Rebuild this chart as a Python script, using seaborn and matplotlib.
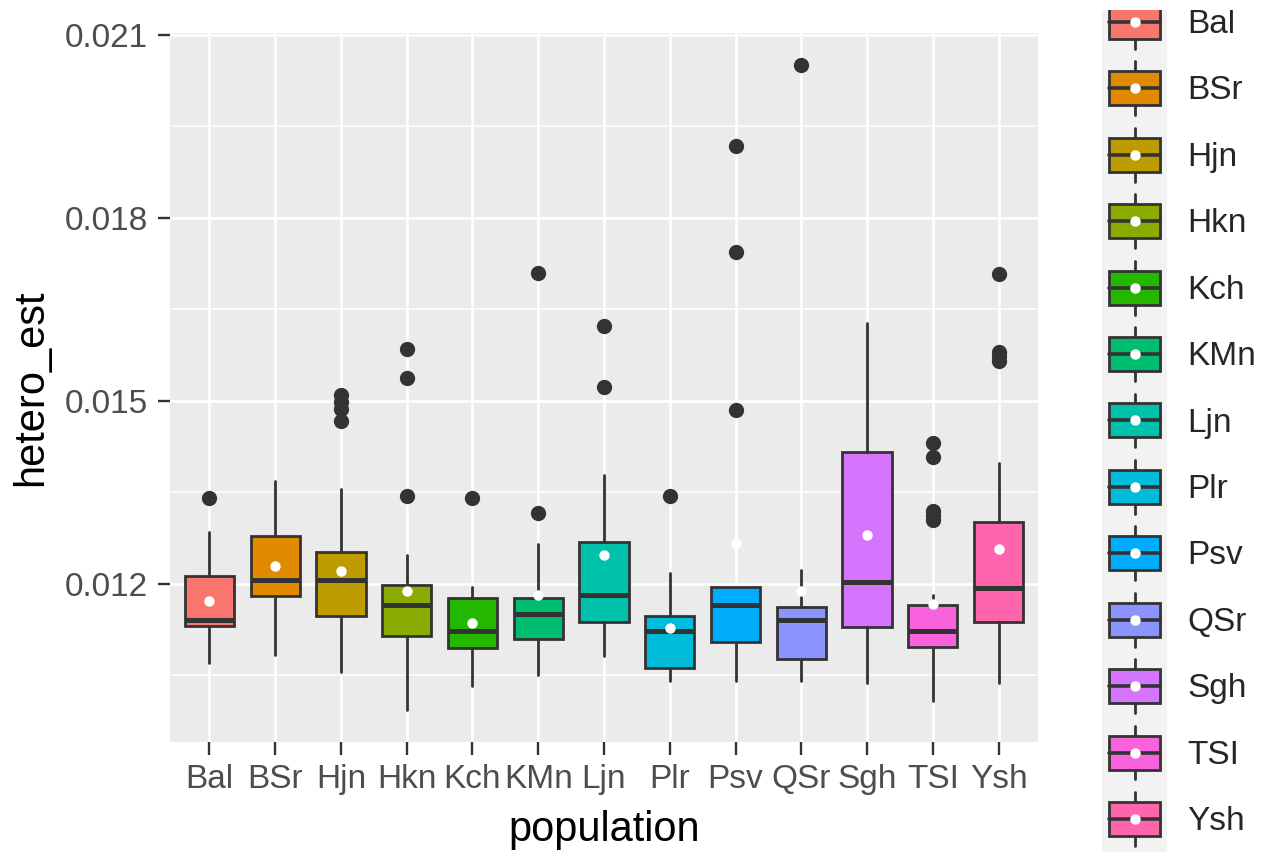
import matplotlib
matplotlib.use("Agg")
import matplotlib.pyplot as plt
import seaborn as sns
import pandas as pd
from matplotlib.patches import Patch, Rectangle
from matplotlib.lines import Line2D
from matplotlib.legend_handler import HandlerBase
from matplotlib.ticker import FixedLocator

# summary statistics (one entry per population)
populations = ["Bal", "BSr", "Hjn", "Hkn", "Kch", "KMn", "Ljn",
               "Plr", "Psv", "QSr", "Sgh", "TSI", "Ysh"]
whisker_low = [0.01070, 0.01083, 0.01055, 0.00993, 0.01032, 0.01050, 0.01081,
               0.01041, 0.01041, 0.01041, 0.01037, 0.01008, 0.01037]
q1 = [0.01130, 0.01179, 0.01146, 0.01114, 0.01094, 0.01109, 0.01137,
      0.01062, 0.01104, 0.01076, 0.01128, 0.01096, 0.01137]
median = [0.01140, 0.01205, 0.01205, 0.01164, 0.01122, 0.01150, 0.01182,
          0.01122, 0.01164, 0.01141, 0.01202, 0.01122, 0.01192]
q3 = [0.01213, 0.01278, 0.01251, 0.01198, 0.01176, 0.01176, 0.01268,
      0.01146, 0.01194, 0.01161, 0.01415, 0.01164, 0.01301]
whisker_high = [0.01285, 0.01368, 0.01355, 0.01246, 0.01195, 0.01265, 0.01378,
                0.01218, 0.01194, 0.01223, 0.01628, 0.01181, 0.01397]
mean_value = [0.01172, 0.01229, 0.01220, 0.01187, 0.01135, 0.01181, 0.01247,
              0.01127, 0.01267, 0.01187, 0.01280, 0.01166, 0.01257]

outlier_population = ["Bal",
                      "Hjn", "Hjn", "Hjn", "Hjn",
                      "Hkn", "Hkn", "Hkn",
                      "Kch",
                      "KMn", "KMn",
                      "Ljn", "Ljn",
                      "Plr",
                      "Psv", "Psv", "Psv",
                      "QSr",
                      "TSI", "TSI", "TSI", "TSI", "TSI",
                      "Ysh", "Ysh", "Ysh", "Ysh"]
outlier_value = [0.01340,
                 0.01509, 0.01498, 0.01487, 0.01467,
                 0.01343, 0.01537, 0.01584,
                 0.01340,
                 0.01316, 0.01710,
                 0.01522, 0.01622,
                 0.01343,
                 0.01485, 0.01744, 0.01918,
                 0.02050,
                 0.01304, 0.01312, 0.01319, 0.01407, 0.01431,
                 0.01565, 0.01573, 0.01579, 0.01708]

# ggplot2 default hue palette for 13 levels
colors = ["#F8766D", "#E18A00", "#BE9C00", "#8CAB00", "#24B700", "#00BE70", "#00C1AB",
          "#00BBDA", "#00ACFC", "#8B93FF", "#D575FE", "#F962DD", "#FF65AC"]

EDGE = "#333333"
LW = 2.0


class BoxKey(HandlerBase):
    """Legend key that looks like a ggplot boxplot key."""
    def create_artists(self, legend, orig_handle, xdescent, ydescent,
                       width, height, fontsize, trans):
        gap = legend.labelspacing * fontsize / 2
        x0, y0 = -xdescent, -ydescent
        cx, cy = x0 + width / 2, y0 + height / 2
        bw, bh = 36.7, 24.5
        bg = Rectangle((x0, y0 - gap), width, height + 2 * gap,
                       facecolor="#F2F2F2", edgecolor="none", transform=trans)
        whisker = Line2D([cx, cx], [cy - 19.4, cy + 19.4], color=EDGE, lw=LW,
                         transform=trans)
        box = Rectangle((cx - bw / 2, cy - bh / 2), bw, bh,
                        facecolor=orig_handle.get_facecolor(), edgecolor=EDGE,
                        lw=LW, transform=trans)
        med = Line2D([cx - bw / 2, cx + bw / 2], [cy, cy], color=EDGE, lw=2.6,
                     transform=trans)
        dot = Line2D([cx], [cy], marker="o", ms=7.5, mfc="white", mec="none",
                     linestyle="none", transform=trans)
        return [bg, whisker, box, med, dot]


sns.set_theme(style="darkgrid", rc={"axes.facecolor": "#EBEBEB",
                                    "grid.color": "white"})
plt.rcParams["font.family"] = ["Liberation Sans", "DejaVu Sans"]

fig, ax = plt.subplots(figsize=(12.66, 8.56), dpi=100)
fig.subplots_adjust(left=170 / 1266, right=1038 / 1266,
                    bottom=1 - 742 / 856, top=1 - 33 / 856)

stats = [dict(label=p, whislo=wl, q1=a, med=m, q3=b, whishi=wh)
         for p, wl, a, m, b, wh in zip(populations, whisker_low, q1, median, q3, whisker_high)]
bp = ax.bxp(stats, positions=range(len(populations)), widths=0.75,
            patch_artist=True, showfliers=False, showcaps=False, manage_ticks=False,
            boxprops=dict(edgecolor=EDGE, linewidth=LW),
            whiskerprops=dict(color=EDGE, linewidth=LW),
            medianprops=dict(color=EDGE, linewidth=3.6))
for patch, c in zip(bp["boxes"], colors):
    patch.set_facecolor(c)

df_out = pd.DataFrame({"population": outlier_population, "hetero_est": outlier_value})
sns.stripplot(data=df_out, x="population", y="hetero_est", order=populations,
              jitter=False, color=EDGE, size=11, linewidth=0, ax=ax, zorder=4)
df_mean = pd.DataFrame({"population": populations, "hetero_est": mean_value})
sns.stripplot(data=df_mean, x="population", y="hetero_est", order=populations,
              jitter=False, color="white", size=7.5, linewidth=0, ax=ax, zorder=5)

# ggplot-like scales: 5% continuous expansion, 0.6 discrete expansion
data_min = min(whisker_low + outlier_value)
data_max = max(whisker_high + outlier_value)
span = data_max - data_min
ax.set_ylim(data_min - 0.05 * span, data_max + 0.05 * span)
ax.set_xlim(-0.6, len(populations) - 1 + 0.6)

major = [0.012, 0.015, 0.018, 0.021]
minor = [0.0105, 0.0135, 0.0165, 0.0195]
ax.set_yticks(major, labels=[f"{v:.3f}" for v in major])
ax.yaxis.set_minor_locator(FixedLocator(minor))
ax.set_xticks(range(len(populations)), labels=populations)

ax.grid(True, which="major", axis="both", color="white", linewidth=1.8)
ax.grid(True, which="minor", axis="y", color="white", linewidth=1.1)
ax.set_axisbelow(True)
for s in ax.spines.values():
    s.set_visible(False)

ax.tick_params(axis="both", which="major", bottom=True, left=True, length=9,
               width=1.7, color=EDGE, labelcolor="#4D4D4D", labelsize=24, pad=7)
ax.tick_params(axis="y", which="minor", length=0)

ax.set_xlabel("population", fontsize=30, color="black")
ax.set_ylabel("hetero_est", fontsize=30, color="black")
ax.xaxis.set_label_coords(0.5, -(810 - 742) / 709)
ax.yaxis.set_label_coords((51 - 170) / 868, 0.5)

handles = [Patch(facecolor=c) for c in colors]
fig.legend(handles, populations, loc="upper left",
           bbox_to_anchor=(1102 / 1266, 1 - 2.7 / 856), frameon=False, fontsize=24,
           handlelength=1.95, handleheight=1.4, labelspacing=0.8375,
           handletextpad=0.6, borderpad=0, borderaxespad=0,
           handler_map={Patch: BoxKey()})

# the original screenshot crops the top of the legend column
fig.add_artist(Rectangle((1090 / 1266, 1 - 10 / 856), 176 / 1266, 10 / 856,
                         transform=fig.transFigure, facecolor="white",
                         edgecolor="none", zorder=10))

fig.savefig("out.png", dpi=100)
